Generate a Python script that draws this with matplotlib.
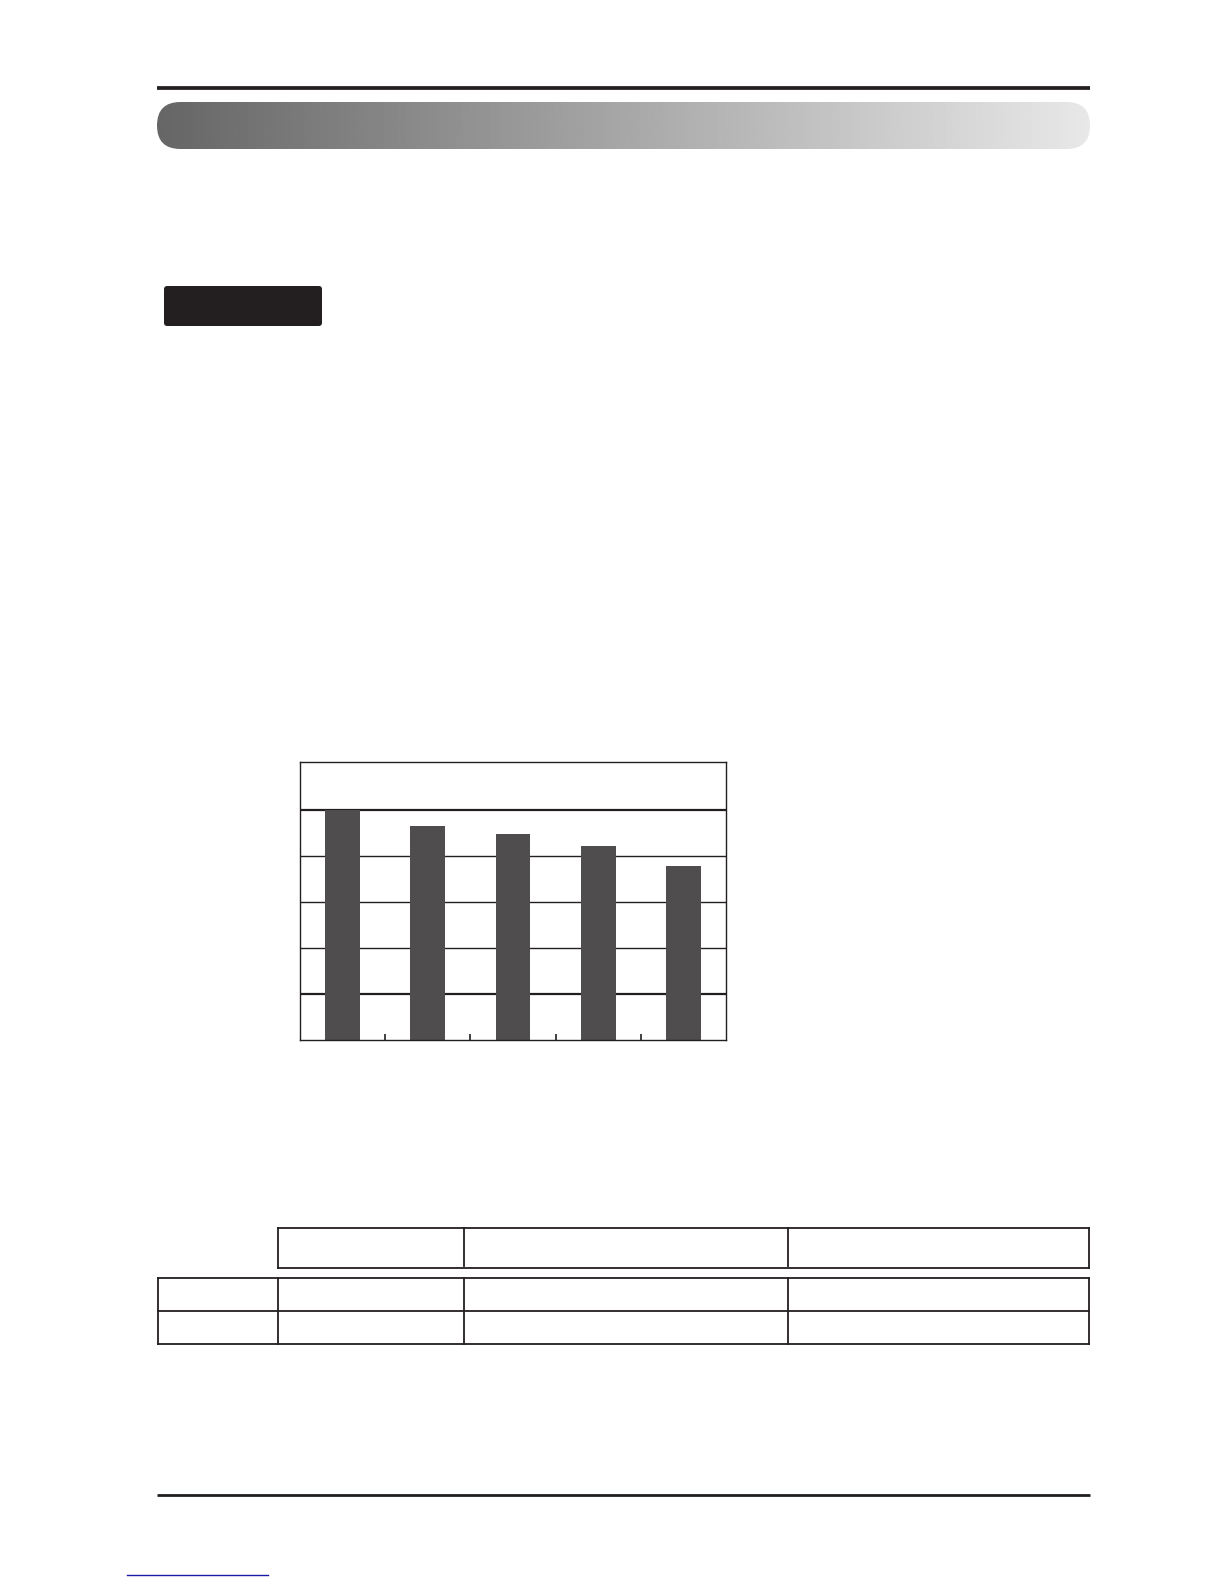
import numpy as np
from matplotlib import pyplot as plt
from matplotlib.patches import FancyBboxPatch

# bar chart values (0-100 scale, gridlines every 20)
categories = [0, 1, 2, 3, 4]
values = [100, 93, 89.6, 84.3, 75.7]
grid_levels = [20, 40, 60, 80, 100]
tick_positions = [0.5, 1.5, 2.5, 3.5]

# table layout (page pixels)
head_cols = [278, 464, 788, 1089]
body_cols = [158, 278, 464, 788, 1089]
body_rows = [1278, 1311, 1344]

W, H = 1224, 1584
ink = '#231f20'
fig = plt.figure(figsize=(W / 100, H / 100), dpi=100)

# page decoration layer in pixel coordinates
page = fig.add_axes([0, 0, 1, 1])
page.set_xlim(0, W)
page.set_ylim(H, 0)
page.axis('off')

page.plot([157, 1090], [87.5, 87.5], color=ink, lw=2.7, solid_capstyle='butt')
page.plot([157, 1090], [1494.5, 1494.5], color=ink, lw=2.0, solid_capstyle='butt')
page.plot([127, 268], [1575, 1575], color='#1a1aa8', lw=1.0)

# gradient header pill
pill = FancyBboxPatch((157 + 23.5, 102 + 23.5), 1090 - 157 - 47, 0,
                      boxstyle='round,pad=23.5', transform=page.transData,
                      facecolor='none', edgecolor='none')
page.add_patch(pill)
grad = np.linspace(0.40, 0.91, 512)[None, :]
im = page.imshow(grad, cmap='gray', vmin=0, vmax=1, aspect='auto',
                 extent=(157, 1090, 149, 102), interpolation='bilinear')
im.set_clip_path(pill)
page.set_xlim(0, W)
page.set_ylim(H, 0)

# dark label box
page.add_patch(FancyBboxPatch((167, 289), 152, 34,
                              boxstyle='round,pad=3', facecolor=ink,
                              edgecolor='none'))

# table lines
lw_t = 1.3
page.plot([head_cols[0], head_cols[-1]], [1228, 1228], color=ink, lw=lw_t)
page.plot([head_cols[0], head_cols[-1]], [1268, 1268], color=ink, lw=lw_t)
page.plot([head_cols[0]] * 2, [1228, 1268], color=ink, lw=lw_t)
page.plot([head_cols[-1]] * 2, [1228, 1268], color=ink, lw=lw_t)
for x in head_cols[1:-1]:
    page.plot([x, x], [1228, 1266], color=ink, lw=lw_t)
for y in body_rows:
    page.plot([body_cols[0], body_cols[-1]], [y, y], color=ink, lw=lw_t)
for x in body_cols:
    page.plot([x, x], [body_rows[0], body_rows[-1]], color=ink, lw=lw_t)

# chart
ax = fig.add_axes([300 / W, (H - 1040) / H, 426 / W, 278 / H])
ax.set_xlim(-0.5, 4.5)
ax.set_ylim(0, 120.9)
for g in grid_levels:
    ax.axhline(g, color=ink, lw=1.6 if g in (20, 100) else 1.0, zorder=1)
ax.bar(categories, values, width=0.41, color='#4f4d4e', zorder=2)
ax.set_xticks(tick_positions)
ax.set_yticks([])
ax.tick_params(axis='x', direction='in', length=4, width=1.2,
               color=ink, labelbottom=False)
for s in ax.spines.values():
    s.set_color(ink)
    s.set_linewidth(1.0)

fig.savefig('out.png', dpi=100)
